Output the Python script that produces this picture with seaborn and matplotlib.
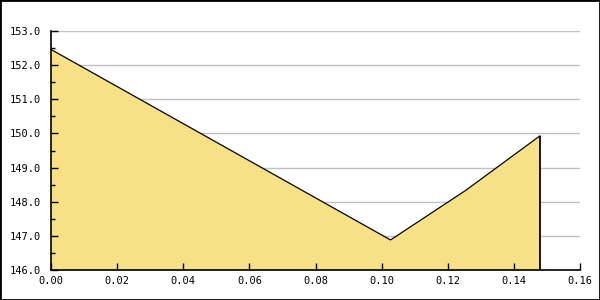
import matplotlib
matplotlib.use("Agg")
import matplotlib.pyplot as plt
import seaborn as sns
import pandas as pd
from matplotlib.ticker import MultipleLocator, FormatStrFormatter
from matplotlib.patches import Rectangle

x_vals = [0.0, 0.1027, 0.1254, 0.1479]
y_vals = [152.46, 146.88, 148.33, 149.93]
y_grid = [147.0, 148.0, 149.0, 150.0, 151.0, 152.0, 153.0]

df = pd.DataFrame({"x": x_vals, "y": y_vals})

sns.set_style("white")
plt.rcParams['font.family'] = ['DejaVu Sans Mono']

fig = plt.figure(figsize=(6, 3), dpi=100)
ax = fig.add_axes([51/600, 30/300, 529/600, 239/300])

for g in y_grid:
    ax.axhline(g, color="#c0c0c0", linewidth=1, zorder=1)

fill_color = "#F6E187"
ax.fill_between(df["x"], df["y"], 146.0, color=fill_color, linewidth=0, zorder=2)
sns.lineplot(data=df, x="x", y="y", ax=ax, color="black", linewidth=0.9, zorder=3)
ax.vlines(x_vals[-1], 146.0, y_vals[-1], color="black", linewidth=1.3, zorder=3)

ax.set_xlim(0, 0.16)
ax.set_ylim(146, 153)
ax.xaxis.set_major_locator(MultipleLocator(0.02))
ax.yaxis.set_major_locator(MultipleLocator(1.0))
ax.yaxis.set_minor_locator(MultipleLocator(0.5))
ax.xaxis.set_major_formatter(FormatStrFormatter("%.2f"))
ax.yaxis.set_major_formatter(FormatStrFormatter("%.1f"))
ax.grid(False)
ax.set_axisbelow(False)
ax.set_xlabel("")
ax.set_ylabel("")
for s in ["top", "right"]:
    ax.spines[s].set_visible(False)
for s in ["left", "bottom"]:
    ax.spines[s].set_color("black")
    ax.spines[s].set_linewidth(1.2)
    ax.spines[s].set_zorder(4)
ax.tick_params(axis="x", which="major", direction="in", length=5, width=1,
               color="black", labelsize=7.5, labelcolor="black", pad=4,
               bottom=True)
ax.tick_params(axis="y", which="major", direction="in", length=5, width=1,
               color="black", labelsize=7.5, labelcolor="black", pad=7,
               left=True)
ax.tick_params(axis="y", which="minor", direction="in", length=3, width=1,
               color="black", left=True)

fig.patches.append(Rectangle((0, 0), 1, 1, transform=fig.transFigure,
                             fill=False, edgecolor="black", linewidth=2))

fig.savefig("out.png", dpi=100)
